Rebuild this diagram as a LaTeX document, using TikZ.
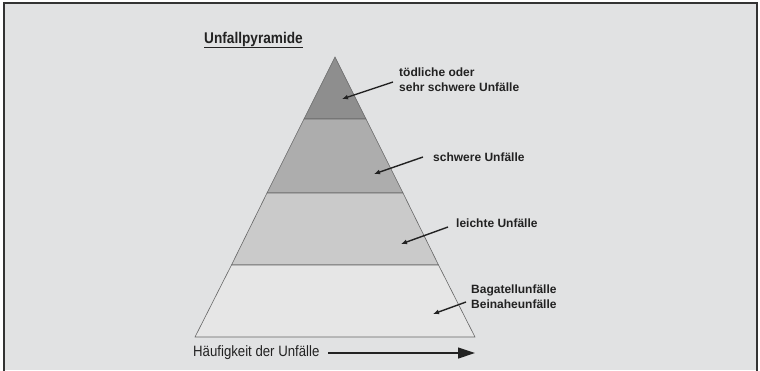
\documentclass[tikz,border=0pt]{standalone}
\usepackage{fontspec}
\setmainfont{Liberation Sans}
\newfontfamily\narrowfont[FakeStretch=0.88]{Liberation Sans}
\usetikzlibrary{arrows.meta}
\definecolor{bgc}{HTML}{E1E2E3}
\definecolor{band1}{HTML}{8E8E8E}
\definecolor{band2}{HTML}{ADADAD}
\definecolor{band3}{HTML}{CACACA}
\definecolor{band4}{HTML}{E6E6E6}
\definecolor{ink}{HTML}{222222}
\tikzset{
  lbl/.style={font=\bfseries\fontsize{12}{15}\selectfont, text=ink, align=left, anchor=west, inner sep=0pt},
  pointer/.style={draw=ink, line width=1.4pt, -{Latex[length=6pt,width=5pt]}},
  band/.style={draw=black!60, line width=0.6pt},
}
\begin{document}
\begin{tikzpicture}[x=1pt,y=-1pt]
\useasboundingbox (0,0) rectangle (760,370);
\fill[white] (0,0) rectangle (760,370);
\fill[bgc] (4,3) rectangle (757,370);
\draw[black!80, line width=1.4pt] (4,372) -- (4,3) -- (757,3) -- (757,372);
% pyramid bands
\coordinate (apex) at (335,57);
\coordinate (bl) at (195,337);
\coordinate (br) at (475,337);
\coordinate (l1) at (304,119); \coordinate (r1) at (366,119);
\coordinate (l2) at (267,193); \coordinate (r2) at (403,193);
\coordinate (l3) at (231.5,265); \coordinate (r3) at (438.5,265);
\filldraw[band, fill=band1] (apex) -- (r1) -- (l1) -- cycle;
\filldraw[band, fill=band2] (l1) -- (r1) -- (r2) -- (l2) -- cycle;
\filldraw[band, fill=band3] (l2) -- (r2) -- (r3) -- (l3) -- cycle;
\filldraw[band, fill=band4] (l3) -- (r3) -- (br) -- (bl) -- cycle;
% title
\node[font=\narrowfont\bfseries\fontsize{15.5}{18}\selectfont, text=ink, anchor=west, inner sep=0pt] (title) at (204,40) {\underline{Unfallpyramide}};
% labels
\node[lbl] (t1) at (399,79.5) {tödliche oder\\sehr schwere Unfälle};
\node[lbl] (t2) at (433,157) {schwere Unfälle};
\node[lbl] (t3) at (456,223) {leichte Unfälle};
\node[lbl] (t4) at (471,296.5) {Bagatellunfälle\\Beinaheunfälle};
\coordinate (p1) at (342,99);
\coordinate (p2) at (374,174);
\coordinate (p3) at (401,244);
\coordinate (p4) at (433,314);
\draw[pointer] (393,82) -- (p1);
\draw[pointer] (423,157) -- (p2);
\draw[pointer] (448,227) -- (p3);
\draw[pointer] (466,302) -- (p4);
% frequency axis
\node[font=\narrowfont\fontsize{15}{17}\selectfont, text=ink, anchor=west, inner sep=0pt] (freq) at (193,353) {Häufigkeit der Unfälle};
\coordinate (fend) at (475,353);
\draw[ink, line width=1.2pt, -{Triangle[length=17pt,width=11pt]}] (328,353) -- (fend);
\end{tikzpicture}
\end{document}
